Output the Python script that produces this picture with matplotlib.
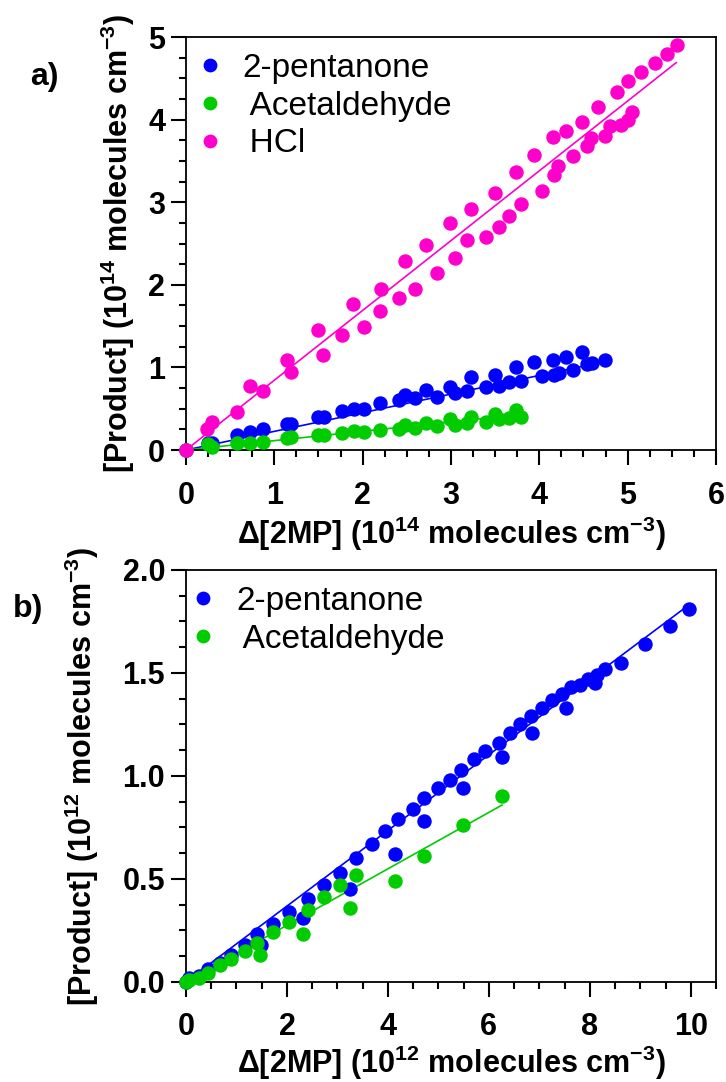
"""Product yields vs consumed 2MP, two panels (a: 1e14 range, b: 1e12 range)."""

import matplotlib
matplotlib.use("Agg")
import matplotlib.pyplot as plt
from matplotlib.ticker import MultipleLocator

plt.rcParams["font.family"] = ["Liberation Sans", "DejaVu Sans"]
plt.rcParams["mathtext.fontset"] = "custom"
plt.rcParams["mathtext.rm"] = "Liberation Sans:bold"
plt.rcParams["mathtext.bf"] = "Liberation Sans:bold"

BLUE = "#0000FF"
GREEN = "#00CC00"
PINK = "#FF00CC"

# ---- panel a (10^14 molecules cm^-3) ----
a_hcl_x = [0, 0.24, 0.29, 0.58, 0.73, 0.87, 1.14, 1.19, 1.50, 1.55, 1.77, 1.89, 2.01,
           2.20, 2.21, 2.41, 2.59, 2.48, 2.72, 2.84, 2.99, 3.04, 3.18, 3.23, 3.40, 3.50,
           3.54, 3.66, 3.74, 3.79, 3.94, 4.03, 4.15, 4.17, 4.21, 4.30, 4.38, 4.48, 4.54,
           4.59, 4.66, 4.74, 4.80, 4.88, 4.92, 5.00, 5.00, 5.05, 5.15, 5.31, 5.44, 5.56]
a_hcl_y = [0, 0.25, 0.34, 0.46, 0.78, 0.72, 1.09, 0.95, 1.45, 1.15, 1.39, 1.77, 1.49,
           1.68, 1.95, 1.84, 1.95, 2.29, 2.48, 2.14, 2.75, 2.33, 2.54, 2.92, 2.58, 3.11,
           2.70, 2.83, 3.37, 2.98, 3.57, 3.14, 3.79, 3.33, 3.44, 3.86, 3.56, 3.97, 3.68,
           3.78, 4.15, 3.80, 3.92, 4.33, 3.93, 4.47, 3.99, 4.09, 4.58, 4.68, 4.79, 4.90]

a_pent_x = [0, 0.25, 0.29, 0.58, 0.73, 0.87, 1.14, 1.19, 1.50, 1.56, 1.77, 1.90, 2.01,
            2.20, 2.41, 2.48, 2.59, 2.72, 2.84, 2.99, 3.04, 3.18, 3.23, 3.40, 3.50, 3.54,
            3.66, 3.74, 3.79, 3.94, 4.03, 4.15, 4.17, 4.22, 4.30, 4.38, 4.48, 4.54, 4.60,
            4.74]
a_pent_y = [0, 0.08, 0.09, 0.18, 0.22, 0.25, 0.31, 0.32, 0.40, 0.40, 0.47, 0.50, 0.50,
            0.57, 0.61, 0.67, 0.63, 0.73, 0.64, 0.76, 0.69, 0.72, 0.88, 0.76, 0.91, 0.78,
            0.82, 1.00, 0.84, 1.06, 0.89, 1.09, 0.91, 0.93, 1.12, 0.97, 1.19, 1.04, 1.05,
            1.09]

a_acet_x = [0, 0.25, 0.29, 0.58, 0.73, 0.87, 1.14, 1.19, 1.50, 1.56, 1.77, 1.90, 2.01,
            2.20, 2.41, 2.48, 2.59, 2.72, 2.84, 2.99, 3.04, 3.18, 3.23, 3.40, 3.50, 3.54,
            3.66, 3.74, 3.79]
a_acet_y = [0, 0.07, 0.04, 0.09, 0.09, 0.10, 0.15, 0.16, 0.18, 0.18, 0.21, 0.23, 0.22,
            0.24, 0.26, 0.30, 0.27, 0.33, 0.29, 0.37, 0.30, 0.33, 0.40, 0.34, 0.44, 0.37,
            0.39, 0.48, 0.40]

# fitted lines (end points)
a_hcl_fit = ([0, 5.55], [0, 4.69])
a_pent_fit = ([0, 4.74], [0, 1.07])
a_acet_fit = ([0, 3.79], [0, 0.43])

# ---- panel b (10^12 molecules cm^-3) ----
b_pent_x = [0, 0.05, 0.26, 0.43, 0.67, 0.90, 1.16, 1.40, 1.49, 1.72, 2.04, 2.31, 2.41,
            2.73, 3.06, 3.25, 3.37, 3.68, 3.94, 4.14, 4.21, 4.50, 4.71, 4.72, 4.99, 5.23,
            5.44, 5.49, 5.71, 5.92, 6.21, 6.26, 6.41, 6.62, 6.84, 6.86, 7.05, 7.25, 7.45,
            7.52, 7.63, 7.80, 7.96, 8.11, 8.15, 8.31, 8.61, 9.10, 9.58, 9.97]
b_pent_y = [0, 0.02, 0.03, 0.06, 0.09, 0.13, 0.18, 0.23, 0.18, 0.28, 0.34, 0.31, 0.40,
            0.47, 0.53, 0.45, 0.60, 0.67, 0.73, 0.62, 0.79, 0.84, 0.89, 0.78, 0.94, 0.98,
            1.03, 0.94, 1.08, 1.12, 1.16, 1.09, 1.21, 1.25, 1.29, 1.21, 1.33, 1.37, 1.40,
            1.33, 1.43, 1.44, 1.47, 1.45, 1.49, 1.52, 1.55, 1.64, 1.73, 1.81]

b_acet_x = [0, 0.05, 0.26, 0.43, 0.67, 0.90, 1.16, 1.40, 1.47, 1.72, 2.04, 2.31, 2.41,
            2.73, 3.06, 3.25, 3.37, 4.14, 4.72, 5.49, 6.26]
b_acet_y = [0, 0.01, 0.02, 0.04, 0.08, 0.11, 0.15, 0.19, 0.13, 0.24, 0.29, 0.23, 0.35,
            0.41, 0.47, 0.36, 0.52, 0.49, 0.61, 0.76, 0.90]

b_pent_fit = ([0, 9.88], [0, 1.815])
b_acet_fit = ([0, 6.26], [0, 0.858])

TICK_FS = 22
LABEL_FS = 22
LEGEND_FS = 24


def style_axis(ax, xmax, ymax, xmaj, xmin, ymaj, ymin):
    ax.set_xlim(0, xmax)
    ax.set_ylim(0, ymax)
    ax.xaxis.set_major_locator(MultipleLocator(xmaj))
    ax.xaxis.set_minor_locator(MultipleLocator(xmin))
    ax.yaxis.set_major_locator(MultipleLocator(ymaj))
    ax.yaxis.set_minor_locator(MultipleLocator(ymin))
    for sp in ax.spines.values():
        sp.set_linewidth(1.3)
    ax.tick_params(which="both", direction="out", width=1.5, top=False, right=False)
    ax.tick_params(which="major", length=11)
    ax.tick_params(which="minor", length=5)
    ax.tick_params(axis="x", which="major", pad=11, labelsize=TICK_FS)
    ax.tick_params(axis="y", which="major", pad=4, labelsize=TICK_FS)
    for lab in ax.get_xticklabels() + ax.get_yticklabels():
        lab.set_fontweight("bold")


def scatter(ax, x, y, color, label=None):
    ax.plot(x, y, "o", ms=9.4, color=color, mec=color, label=label,
            clip_on=False, zorder=3)


def fit(ax, line, color):
    ax.plot(line[0], line[1], "-", color=color, lw=1.2, zorder=2)


def legend(ax, x0):
    ax.legend(loc="upper left", bbox_to_anchor=(x0, 0.961), frameon=False,
              fontsize=LEGEND_FS, numpoints=1, handlelength=0.8, handletextpad=0.58,
              borderpad=0, borderaxespad=0, labelspacing=0.20, markerscale=0.95)


fig = plt.figure(figsize=(7.26, 10.82), dpi=100)
ax_a = fig.add_axes([0.2562, 0.5841, 0.7300, 0.3817])
ax_b = fig.add_axes([0.2562, 0.0927, 0.7300, 0.3805])

# panel a
fit(ax_a, a_hcl_fit, PINK)
fit(ax_a, a_pent_fit, BLUE)
fit(ax_a, a_acet_fit, GREEN)
scatter(ax_a, a_pent_x, a_pent_y, BLUE, "2-pentanone")
scatter(ax_a, a_acet_x, a_acet_y, GREEN, "\u2009Acetaldehyde")
scatter(ax_a, a_hcl_x, a_hcl_y, PINK, "\u2009HCl")
style_axis(ax_a, 6, 5, 1, 0.25, 1, 0.25)
ax_a.set_xlabel("Δ[2MP] (10$^{14}$ molecules cm$^{-3}$)", fontsize=LABEL_FS,
                fontweight="bold", labelpad=3)
ax_a.set_ylabel("[Product] (10$^{14}$ molecules cm$^{-3}$)", fontsize=LABEL_FS,
                fontweight="bold")
ax_a.yaxis.set_label_coords(-0.092, 0.5)
legend(ax_a, 0.020)
fig.text(44 / 726, 1 - 77 / 1082, "a)", fontsize=23, fontweight="bold",
         ha="center", va="center")

# panel b
fit(ax_b, b_pent_fit, BLUE)
fit(ax_b, b_acet_fit, GREEN)
scatter(ax_b, b_pent_x, b_pent_y, BLUE, "2-pentanone")
scatter(ax_b, b_acet_x, b_acet_y, GREEN, "\u2009Acetaldehyde")
style_axis(ax_b, 10.5, 2.0, 2, 0.5, 0.5, 0.125)
ax_b.yaxis.set_major_formatter(plt.FormatStrFormatter("%.1f"))
ax_b.set_xlabel("Δ[2MP] (10$^{12}$ molecules cm$^{-3}$)", fontsize=LABEL_FS,
                fontweight="bold", labelpad=1)
ax_b.set_ylabel("[Product] (10$^{12}$ molecules cm$^{-3}$)", fontsize=LABEL_FS,
                fontweight="bold")
ax_b.yaxis.set_label_coords(-0.160, 0.5)
legend(ax_b, 0.0075)
fig.text(28 / 726, 1 - 609 / 1082, "b)", fontsize=23, fontweight="bold",
         ha="center", va="center")

fig.savefig("out.png", dpi=100)
